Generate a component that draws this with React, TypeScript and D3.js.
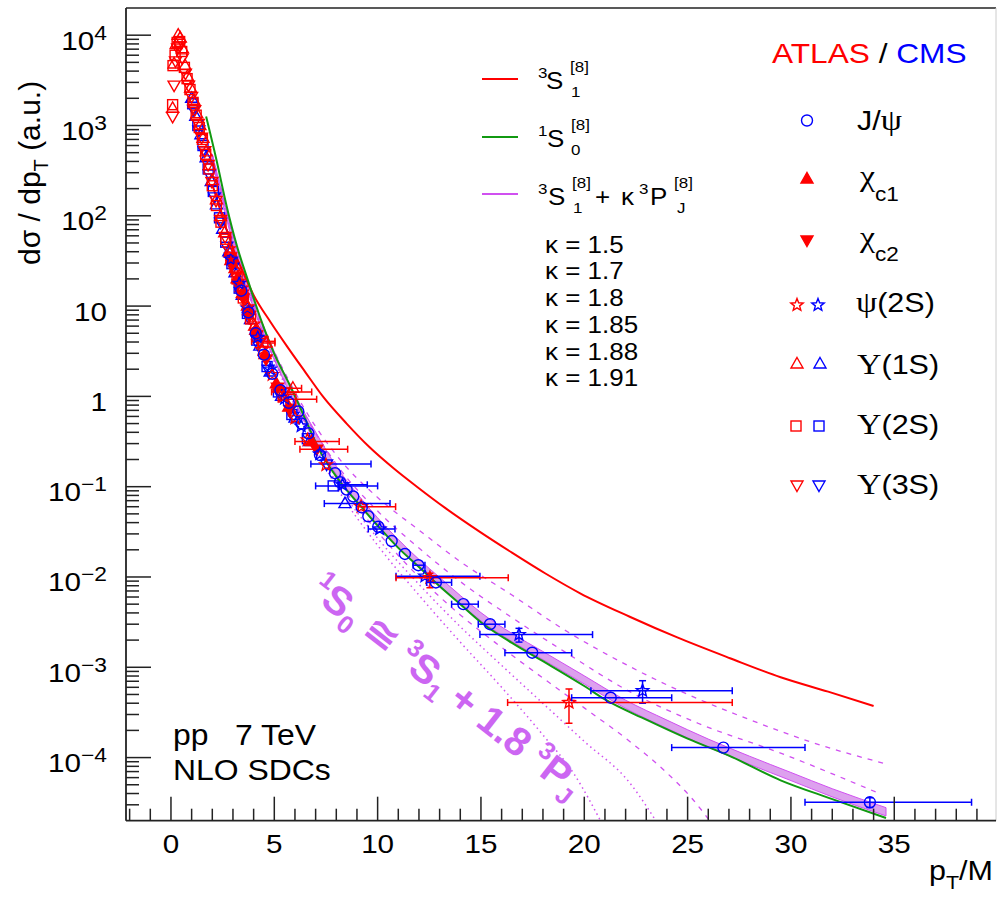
import React from "react";
import * as d3 from "d3";

type Pt = [number, number, number?, number?, number?, number?]; // x, y, xlo, xhi, ylo, yhi

// ---------------- data ----------------
const cmsJpsi: Pt[] = [
  [3.4, 14.8], [3.75, 8.5], [4.1, 5.0], [4.5, 2.9], [4.9, 1.78], [5.3, 1.17], [5.7, 0.85],
  [6.16, 0.68], [6.32, 0.5], [6.65, 0.39], [7.21, 0.224], [7.94, 0.141], [8.18, 0.112],
  [8.5, 0.093], [8.82, 0.078], [9.23, 0.059], [9.55, 0.047], [10.03, 0.036], [10.68, 0.025],
  [11.32, 0.018], [11.97, 0.0135, 11.72, 12.29], [12.82, 8.7e-3, 12.37, 13.58],
  [14.15, 5.0e-3, 13.58, 14.87], [15.44, 3.0e-3, 14.87, 16.16], [17.48, 1.45e-3, 16.16, 19.39],
  [21.28, 4.6e-4, 19.39, 24.23], [26.73, 1.29e-4, 24.23, 30.68], [33.82, 3.2e-5, 30.68, 38.74, 2.8e-5, 3.6e-5],
];
const atlasChic1: Pt[] = [
  [2.9, 32], [3.2, 20], [3.45, 13.8], [3.75, 8.9], [4.1, 5.4], [4.55, 2.9], [5.1, 1.38],
  [5.7, 0.76], [6.8, 0.316, 6.0, 8.14],
];
const atlasChic2: Pt[] = [
  [2.95, 29], [3.25, 17.8], [3.5, 12.3], [3.8, 7.9], [4.15, 4.8], [4.6, 2.6], [5.15, 1.26],
  [5.75, 0.71], [7.05, 0.26, 6.24, 8.55],
];
const atlasPsi2S: Pt[] = [
  [2.8, 43], [3.1, 25], [3.4, 15.8], [3.7, 9.8], [4.0, 6.3], [4.4, 3.3], [4.9, 1.74], [5.45, 1.0],
  [6.0, 0.575], [6.6, 0.33], [7.5, 0.174], [9.2, 0.06, 9.06, 10.87],
  [12.53, 9.8e-3, 10.89, 16.32, 7.6e-3, 1.1e-2], [19.26, 4.07e-4, 16.29, 27.16, 2.4e-4, 5.75e-4],
];
const cmsPsi2S: Pt[] = [
  [2.9, 33], [3.3, 17.8], [3.7, 9.5], [4.2, 4.5], [4.8, 2.0], [5.5, 0.95], [6.3, 0.47], [7.2, 0.23],
  [8.3, 0.105, 8.14, 9.5], [10.1, 0.034, 9.55, 10.84], [12.29, 0.0102, 10.89, 14.95],
  [16.84, 2.3e-3, 14.95, 20.4, 1.9e-3, 2.7e-3], [22.82, 5.5e-4, 20.32, 27.16, 4.0e-4, 7.1e-4],
];
const atlasY1S: Pt[] = [
  [0.08, 1550], [0.15, 4800], [0.25, 7900], [0.35, 10000], [0.45, 9300], [0.55, 7100], [0.68, 4600],
  [0.8, 3500], [0.95, 2600], [1.1, 1900], [1.25, 1350], [1.4, 1000], [1.55, 720], [1.7, 510],
  [1.85, 360], [2.0, 245], [2.2, 150], [2.4, 98], [2.6, 65], [2.85, 39], [3.1, 26], [3.4, 16],
  [3.7, 10], [4.05, 6.0], [4.6, 3.9, 4.23, 5.03], [5.9, 1.23, 4.94, 6.32],
];
const atlasY2S: Pt[] = [
  [0.08, 1700], [0.1, 4600], [0.2, 6000], [0.3, 8300], [0.42, 8500], [0.52, 6600], [0.65, 4400],
  [0.78, 3300], [0.92, 2500], [1.07, 1800], [1.22, 1300], [1.37, 950], [1.52, 700], [1.68, 480],
  [1.84, 330], [2.0, 215], [2.2, 130], [2.42, 85], [2.65, 55], [2.9, 33], [3.2, 20], [3.5, 12.3],
  [3.85, 7.2], [4.45, 4.07, 3.9, 5.03], [5.8, 0.93, 5.19, 7.05],
];
const atlasY3S: Pt[] = [
  [0.08, 1260], [0.15, 2800], [0.22, 5200], [0.32, 7200], [0.42, 7600], [0.55, 5600], [0.7, 3800],
  [0.85, 2800], [1.0, 2100], [1.15, 1500], [1.32, 1050], [1.48, 740], [1.64, 525], [1.8, 370],
  [1.98, 240], [2.18, 148], [2.4, 91], [2.62, 59], [2.88, 35], [3.15, 22], [3.45, 13.5], [3.8, 7.9],
  [4.3, 3.98], [5.5, 1.12, 4.87, 6.81],
];
const cmsY1S: Pt[] = [
  [1.0, 2000], [1.2, 1260], [1.45, 790], [1.7, 440], [1.95, 240], [2.2, 132], [2.5, 71], [2.8, 40],
  [3.1, 23.4], [3.45, 13.2], [3.85, 7.1], [4.3, 3.6], [4.8, 1.86], [5.35, 1.0], [6.0, 0.575],
  [6.7, 0.316], [8.42, 0.065, 7.42, 10.6],
];
const cmsY2S: Pt[] = [
  [1.05, 1740], [1.3, 1000], [1.55, 600], [1.8, 330], [2.05, 186], [2.35, 95], [2.65, 51], [2.95, 29.5],
  [3.3, 15.8], [3.7, 8.3], [4.15, 4.2], [4.65, 2.14], [5.2, 1.12], [5.85, 0.63], [6.6, 0.34],
  [7.85, 0.102, 7.0, 10.0],
];
const cmsY3S: Pt[] = [
  [1.1, 1500], [1.35, 890], [1.6, 525], [1.85, 290], [2.1, 162], [2.4, 85], [2.7, 46], [3.0, 27],
  [3.35, 14.5], [3.75, 7.6], [4.2, 3.8], [4.7, 2.0], [5.25, 1.07], [5.9, 0.6], [7.53, 0.178, 6.77, 9.68],
];

// theory curves
const curve3S1: [number, number][] = [
  [2.0, 224], [2.5, 95.5], [3.0, 43.7], [3.5, 23.4], [4.0, 13.2], [4.8, 6.76], [5.6, 3.63], [6.5, 1.86],
  [7.35, 1.0], [8.5, 0.5], [9.6, 0.275], [10.8, 0.158], [11.9, 0.1], [13.3, 0.0575], [14.95, 0.0316],
  [16.5, 0.0186], [18.1, 0.011], [19.8, 6.6e-3], [22.2, 3.63e-3], [24.5, 2.14e-3], [27.05, 1.26e-3],
  [29.5, 7.76e-4], [31.8, 5.37e-4], [34.0, 3.72e-4],
];
const curve1S0: [number, number][] = [
  [1.7, 1260], [2.2, 417], [2.7, 126], [3.2, 45.7], [3.7, 20.0], [4.4, 6.6], [5.0, 2.95], [5.76, 1.32],
  [6.3, 0.71], [7.2, 0.25], [8.2, 0.112], [9.2, 0.06], [10.0, 0.037], [11.0, 0.021], [12.0, 0.0129],
  [13.0, 7.9e-3], [14.0, 5.0e-3], [15.0, 3.16e-3], [16.5, 1.86e-3], [18.0, 1.17e-3], [20.0, 6.2e-4],
  [21.0, 4.4e-4], [23.0, 2.63e-4], [25.0, 1.62e-4], [27.0, 1.05e-4], [29.5, 5.6e-5], [32.0, 3.47e-5],
  [34.6, 2.14e-5],
];
const bandX = [2.0, 2.5, 3.0, 3.5, 4.0, 4.5, 5.0, 5.5, 6.0, 7.0, 8.0, 9.0, 10.0, 11.0, 12.0, 13.0, 14.0,
  15.0, 16.5, 18.0, 20.0, 22.0, 24.0, 26.0, 28.0, 30.0, 32.0, 34.6];
const bandLo = [393.6, 136.5, 49.5, 20.65, 9.44, 4.73, 2.54, 1.43, 0.841, 0.327, 0.1365, 0.0684, 0.0367,
  0.0211, 0.01274, 8.04e-3, 5.07e-3, 3.27e-3, 1.93e-3, 1.216e-3, 6.53e-4, 3.51e-4, 2.11e-4, 1.303e-4,
  8.41e-5, 5.56e-5, 3.67e-5, 2.26e-5];
const bandHi = [484.2, 167.9, 61.0, 25.4, 11.61, 5.82, 3.13, 1.76, 1.035, 0.403, 0.168, 0.0841, 0.0452,
  0.026, 0.01567, 9.89e-3, 6.24e-3, 4.03e-3, 2.37e-3, 1.496e-3, 8.04e-4, 4.32e-4, 2.6e-4, 1.603e-4,
  1.035e-4, 6.84e-5, 4.52e-5, 2.79e-5];
const kappa15: [number, number][] = [
  [2.0, 468], [4.0, 11.5], [6.0, 1.12], [8.0, 0.224], [10.0, 0.0759], [12.0, 0.0331], [14.0, 0.0148],
  [16.5, 6.31e-3], [19.0, 2.63e-3], [22.2, 1.02e-3], [25.0, 5.01e-4], [28.0, 2.63e-4], [31.0, 1.48e-4],
  [34.6, 8.5e-5],
];
const kappa17: [number, number][] = [
  [2.0, 452], [4.0, 11.0], [6.0, 1.0], [8.0, 0.178], [10.0, 0.0537], [12.0, 0.0209], [14.0, 8.9e-3],
  [16.5, 3.55e-3], [19.0, 1.51e-3], [22.2, 5.37e-4], [25.5, 2.4e-4], [29.5, 1.12e-4], [34.2, 4.07e-5],
];
const kappa185: [number, number][] = [
  [2.0, 427], [4.0, 10], [6.0, 0.851], [8.0, 0.126], [10.0, 0.0316], [12.0, 0.01], [14.0, 3.8e-3],
  [16.0, 1.66e-3], [18.0, 7.59e-4], [20.0, 3.55e-4], [22.2, 1.51e-4], [24.0, 6.76e-5], [25.2, 3.55e-5],
  [26.4, 1.58e-5],
];
const kappa188: [number, number][] = [
  [2.0, 422], [4.0, 9.77], [6.0, 0.813], [8.0, 0.112], [10.0, 0.0269], [12.0, 8.3e-3], [14.0, 2.82e-3],
  [16.0, 1.05e-3], [18.0, 3.98e-4], [20.0, 1.51e-4], [22.2, 5.25e-5], [23.6, 1.78e-5],
];
const kappa191: [number, number][] = [
  [2.0, 417], [4.0, 9.55], [6.0, 0.776], [8.0, 0.1], [10.0, 0.0224], [12.0, 6.3e-3], [14.0, 1.9e-3],
  [16.0, 6.0e-4], [18.0, 1.78e-4], [19.5, 6.6e-5], [20.9, 1.78e-5],
];

const xMajorTicks = [0, 5, 10, 15, 20, 25, 30, 35];
const yExponents = [-4, -3, -2, -1, 0, 1, 2, 3, 4];
const kappaLabels = ["κ = 1.5", "κ = 1.7", "κ = 1.8", "κ = 1.85", "κ = 1.88", "κ = 1.91"];

// ---------------- drawing ----------------
const RED = "#ff0000";
const BLUE = "#0000ff";
const GREEN = "#119911";
const MAG = "#d050f0";
const BANDFILL = "#dda0ee";
const TEXTMAG = "#cc66f2";
const FONT = "'Liberation Sans', Arial, Helvetica, sans-serif";
const SERIF = "'Liberation Serif', 'DejaVu Serif', serif";

type Kind = "circle" | "triUp" | "triDown" | "square" | "star";

function Marker({ kind, cx, cy, color, filled }: { kind: Kind; cx: number; cy: number; color: string; filled?: boolean }) {
  const fill = filled ? color : "none";
  const sw = 1.4;
  if (kind === "circle") return <circle cx={cx} cy={cy} r={5.5} fill={fill} stroke={color} strokeWidth={sw} />;
  if (kind === "square") return <rect x={cx - 5} y={cy - 5} width={10} height={10} fill={fill} stroke={color} strokeWidth={sw} />;
  if (kind === "triUp")
    return <path d={`M${cx},${cy - 6.5}L${cx + 6},${cy + 4}L${cx - 6},${cy + 4}Z`} fill={fill} stroke={color} strokeWidth={sw} />;
  if (kind === "triDown")
    return <path d={`M${cx},${cy + 6.5}L${cx + 6},${cy - 4}L${cx - 6},${cy - 4}Z`} fill={fill} stroke={color} strokeWidth={sw} />;
  const pts: string[] = [];
  for (let i = 0; i < 10; i++) {
    const r = i % 2 === 0 ? 6.5 : 2.8;
    const a = -Math.PI / 2 + (i * Math.PI) / 5;
    pts.push(`${cx + r * Math.cos(a)},${cy + r * Math.sin(a)}`);
  }
  return <path d={`M${pts.join("L")}Z`} fill={fill} stroke={color} strokeWidth={sw} />;
}

function Series({ data, kind, color, filled, xs, ys }: any) {
  return (
    <g>
      {data.map((p: Pt, i: number) => {
        const cx = xs(p[0]);
        const cy = ys(p[1]);
        return (
          <g key={i}>
            {p[2] !== undefined && p[3] !== undefined && (
              <g stroke={color} strokeWidth={1.5}>
                <line x1={xs(p[2])} x2={xs(p[3])} y1={cy} y2={cy} />
                <line x1={xs(p[2])} x2={xs(p[2])} y1={cy - 3.5} y2={cy + 3.5} />
                <line x1={xs(p[3])} x2={xs(p[3])} y1={cy - 3.5} y2={cy + 3.5} />
              </g>
            )}
            {p[4] !== undefined && p[5] !== undefined && (
              <g stroke={color} strokeWidth={1.5}>
                <line x1={cx} x2={cx} y1={ys(p[4])} y2={ys(p[5])} />
                <line x1={cx - 3.5} x2={cx + 3.5} y1={ys(p[4])} y2={ys(p[4])} />
                <line x1={cx - 3.5} x2={cx + 3.5} y1={ys(p[5])} y2={ys(p[5])} />
              </g>
            )}
            <Marker kind={kind} cx={cx} cy={cy} color={color} filled={filled} />
          </g>
        );
      })}
    </g>
  );
}

// text with the slight horizontal widening seen in the reference
function Tx({ x, y, sx = 1.13, children, ...rest }: any) {
  return (
    <text transform={`translate(${x},${y}) scale(${sx},1)`} {...rest}>
      {children}
    </text>
  );
}

export default function App() {
  const L = 126, R = 996, T = 8, B = 820.7;
  const xs = d3.scaleLinear().domain([-2.2, 40]).range([125.5, 997.6]);
  const ys = d3.scaleLog().domain([2e-5, 2e4]).range([B, T]);
  const line = d3.line<[number, number]>().x((d) => xs(d[0])).y((d) => ys(d[1])).curve(d3.curveMonotoneX);
  const band = d3
    .area<number>()
    .x((i) => xs(bandX[i]))
    .y0((i) => ys(bandLo[i]))
    .y1((i) => ys(bandHi[i]))
    .curve(d3.curveMonotoneX);
  const idx = bandX.map((_, i) => i);

  const xMinor: number[] = [];
  for (let v = -2; v <= 39; v++) if (v % 5 !== 0) xMinor.push(v);
  const yMinor: number[] = [];
  for (let e = -5; e <= 4; e++) for (let k = 2; k <= 9; k++) {
    const v = k * Math.pow(10, e);
    if (v > 2e-5 && v < 2e4) yMinor.push(v);
  }

  return (
    <svg width={997} height={897} style={{ display: "block", position: "absolute", left: 0, top: 0 }} fontFamily={FONT}>
      <rect x={0} y={0} width={997} height={897} fill="#fff" />
      <defs>
        <clipPath id="frame">
          <rect x={L} y={T} width={R - L} height={B - T} />
        </clipPath>
      </defs>

      {/* theory curves */}
      <g clipPath="url(#frame)" fill="none">
        <path d={band(idx) || ""} fill={BANDFILL} stroke={MAG} strokeWidth={1} />
        <path d={line(kappa15) || ""} stroke={MAG} strokeWidth={1.3} strokeDasharray="5,6" />
        <path d={line(kappa17) || ""} stroke={MAG} strokeWidth={1.3} strokeDasharray="5,6" />
        <path d={line(kappa185) || ""} stroke={MAG} strokeWidth={1.3} strokeDasharray="5,6" />
        <path d={line(kappa188) || ""} stroke={MAG} strokeWidth={1.5} strokeDasharray="1.5,3.5" />
        <path d={line(kappa191) || ""} stroke={MAG} strokeWidth={1.5} strokeDasharray="1.5,3.5" />
        <path d={line(curve3S1) || ""} stroke={RED} strokeWidth={2} />
        <path d={line(curve1S0) || ""} stroke={GREEN} strokeWidth={2} />
      </g>

      {/* data */}
      <g clipPath="url(#frame)">
        <Series data={cmsY3S} kind="triDown" color={BLUE} xs={xs} ys={ys} />
        <Series data={cmsY2S} kind="square" color={BLUE} xs={xs} ys={ys} />
        <Series data={cmsY1S} kind="triUp" color={BLUE} xs={xs} ys={ys} />
        <Series data={atlasY3S} kind="triDown" color={RED} xs={xs} ys={ys} />
        <Series data={atlasY2S} kind="square" color={RED} xs={xs} ys={ys} />
        <Series data={atlasY1S} kind="triUp" color={RED} xs={xs} ys={ys} />
        <Series data={atlasChic1} kind="triUp" color={RED} filled xs={xs} ys={ys} />
        <Series data={atlasChic2} kind="triDown" color={RED} filled xs={xs} ys={ys} />
        <Series data={cmsPsi2S} kind="star" color={BLUE} xs={xs} ys={ys} />
        <Series data={atlasPsi2S} kind="star" color={RED} xs={xs} ys={ys} />
        <Series data={cmsJpsi} kind="circle" color={BLUE} xs={xs} ys={ys} />
      </g>

      {/* frame and axes */}
      <g stroke="#222" fill="none">
        <line x1={L} x2={R} y1={T} y2={T} strokeWidth={1.5} />
        <line x1={R} x2={R} y1={T} y2={B} strokeWidth={1} stroke="#ccc" />
        <line x1={L} x2={L} y1={T} y2={B} strokeWidth={1.8} />
        <line x1={L} x2={R} y1={B} y2={B} strokeWidth={1.8} />
        {xMajorTicks.map((v) => (
          <line key={"xm" + v} x1={xs(v)} x2={xs(v)} y1={B} y2={B - 24} strokeWidth={1.5} />
        ))}
        {xMinor.map((v) => (
          <line key={"xn" + v} x1={xs(v)} x2={xs(v)} y1={B} y2={B - 12} strokeWidth={1.5} />
        ))}
        {yExponents.map((e) => (
          <line key={"ym" + e} x1={L} x2={L + 25} y1={ys(Math.pow(10, e))} y2={ys(Math.pow(10, e))} strokeWidth={1.5} />
        ))}
        {yMinor.map((v, i) => (
          <line key={"yn" + i} x1={L} x2={L + 13} y1={ys(v)} y2={ys(v)} strokeWidth={1.5} />
        ))}
      </g>

      {/* tick labels */}
      <g fontSize={26} fill="#000">
        {xMajorTicks.map((v) => (
          <Tx key={"xl" + v} x={xs(v)} y={853} sx={1.14} textAnchor="middle">{v}</Tx>
        ))}
        {yExponents.map((e) => {
          const yy = ys(Math.pow(10, e)) + 14.5;
          if (e === 0) return <Tx key={"yl" + e} x={107} y={yy} sx={1.14} textAnchor="end">1</Tx>;
          if (e === 1) return <Tx key={"yl" + e} x={107} y={yy} sx={1.14} textAnchor="end">10</Tx>;
          return (
            <Tx key={"yl" + e} x={107} y={yy} sx={1.14} textAnchor="end">
              10<tspan fontSize={20} dy={-10}>{e < 0 ? "\u2212" + -e : String(e)}</tspan>
            </Tx>
          );
        })}
      </g>

      {/* axis titles */}
      <text transform="translate(40,265) rotate(-90)" fontSize={30} fill="#000">
        dσ / dp<tspan fontSize={20} dy={8}>T</tspan>
        <tspan dy={-8}> (a.u.)</tspan>
      </text>
      <Tx x={993} y={880} textAnchor="end" fontSize={27} fill="#000">
        p<tspan fontSize={19} dy={9}>T</tspan>
        <tspan dy={-9}>/M</tspan>
      </Tx>

      {/* left legend */}
      <g fill="#000">
        <line x1={482} x2={518} y1={79} y2={79} stroke={RED} strokeWidth={2} />
        <Tx x={538} y={78} fontSize={15}>3</Tx>
        <Tx x={546} y={89} fontSize={23}>S</Tx>
        <Tx x={570} y={72} fontSize={15}>[8]</Tx>
        <Tx x={571} y={97} fontSize={15}>1</Tx>

        <line x1={482} x2={518} y1={137} y2={137} stroke={GREEN} strokeWidth={2} />
        <Tx x={538} y={136} fontSize={15}>1</Tx>
        <Tx x={547} y={147} fontSize={23}>S</Tx>
        <Tx x={571} y={130} fontSize={15}>[8]</Tx>
        <Tx x={571} y={155} fontSize={15}>0</Tx>

        <line x1={482} x2={518} y1={194} y2={194} stroke={MAG} strokeWidth={2} />
        <Tx x={538} y={194} fontSize={15}>3</Tx>
        <Tx x={548} y={205} fontSize={23}>S</Tx>
        <Tx x={572} y={188} fontSize={15}>[8]</Tx>
        <Tx x={573} y={213} fontSize={15}>1</Tx>
        <Tx x={595} y={205} fontSize={23}>+</Tx>
        <Tx x={621} y={205} fontSize={23}>κ</Tx>
        <Tx x={639} y={194} fontSize={15}>3</Tx>
        <Tx x={650} y={205} fontSize={23}>P</Tx>
        <Tx x={674} y={188} fontSize={15}>[8]</Tx>
        <Tx x={677} y={213} fontSize={15}>J</Tx>

        {kappaLabels.map((s, i) => (
          <Tx key={s} x={545} y={252.7 + i * 26.7} fontSize={23}>{s}</Tx>
        ))}
      </g>

      {/* right legend */}
      <g fontSize={27} fill="#000">
        <Tx x={772} y={63} fontSize={28}>
          <tspan fill={RED}>ATLAS</tspan>
          <tspan fill="#000"> / </tspan>
          <tspan fill={BLUE}>CMS</tspan>
        </Tx>
        <Marker kind="circle" cx={807} cy={120.5} color={BLUE} />
        <Tx x={857} y={130}>J/<tspan fontFamily={SERIF} fontSize={30}>ψ</tspan></Tx>
        <Marker kind="triUp" cx={807} cy={179} color={RED} filled />
        <Tx x={860} y={186}><tspan fontFamily={SERIF} fontSize={30}>χ</tspan><tspan fontSize={20} dy={15}>c1</tspan></Tx>
        <Marker kind="triDown" cx={807} cy={240} color={RED} filled />
        <Tx x={860} y={247}><tspan fontFamily={SERIF} fontSize={30}>χ</tspan><tspan fontSize={20} dy={14}>c2</tspan></Tx>
        <Marker kind="star" cx={797} cy={305} color={RED} />
        <Marker kind="star" cx={818} cy={305} color={BLUE} />
        <Tx x={856} y={312}><tspan fontFamily={SERIF} fontSize={30}>ψ</tspan>(2S)</Tx>
        <Marker kind="triUp" cx={797} cy={364} color={RED} />
        <Marker kind="triUp" cx={820} cy={364} color={BLUE} />
        <Tx x={857} y={374}><tspan fontFamily={SERIF} fontSize={30}>Υ</tspan>(1S)</Tx>
        <Marker kind="square" cx={796} cy={426} color={RED} />
        <Marker kind="square" cx={819} cy={426} color={BLUE} />
        <Tx x={857} y={434}><tspan fontFamily={SERIF} fontSize={30}>Υ</tspan>(2S)</Tx>
        <Marker kind="triDown" cx={797} cy={485} color={RED} />
        <Marker kind="triDown" cx={819} cy={485} color={BLUE} />
        <Tx x={857} y={494}><tspan fontFamily={SERIF} fontSize={30}>Υ</tspan>(3S)</Tx>
      </g>

      {/* bottom-left annotation */}
      <g fontSize={29} fill="#000">
        <Tx x={173} y={745} sx={1.1}>pp</Tx>
        <Tx x={235} y={745} sx={1.1}>7 TeV</Tx>
        <Tx x={173} y={780} sx={1.1}>NLO SDCs</Tx>
      </g>

      {/* rotated magenta annotation */}
      <text transform="translate(308,595) rotate(38)" fontSize={40} fontWeight="bold" fill={TEXTMAG}>
        <tspan fontSize={25} dy={-16}>1</tspan>
        <tspan dy={16}>S</tspan>
        <tspan fontSize={25} dy={9}>0</tspan>
        <tspan dy={-9}> ≅ </tspan>
        <tspan fontSize={25} dy={-16}>3</tspan>
        <tspan dy={16}>S</tspan>
        <tspan fontSize={25} dy={9}>1</tspan>
        <tspan dy={-9}> + 1.8 </tspan>
        <tspan fontSize={25} dy={-16}>3</tspan>
        <tspan dy={16}>P</tspan>
        <tspan fontSize={25} dy={9}>J</tspan>
      </text>
    </svg>
  );
}
